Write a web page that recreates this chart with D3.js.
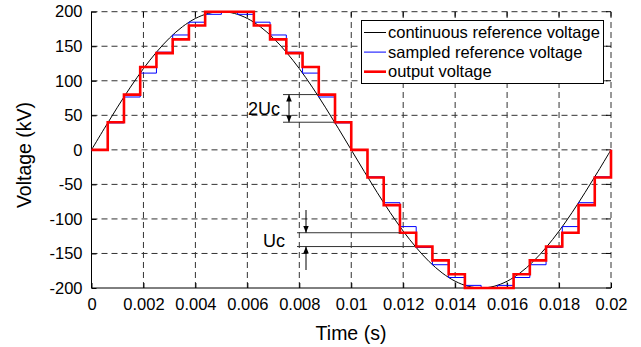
<!DOCTYPE html>
<html><head><meta charset="utf-8">
<script src="https://cdn.jsdelivr.net/npm/d3@7"></script>
<style>
html,body{margin:0;padding:0;background:#fff;}
svg{display:block;font-family:"Liberation Sans",Arial,sans-serif;}
</style></head>
<body>
<svg id="chart" width="641" height="347"></svg>
<script>
// ---- data ----
const sampleTimes = [0,0.000625,0.00125,0.001875,0.0025,0.003125,0.00375,0.004375,0.005,0.005625,0.00625,0.006875,0.0075,0.008125,0.00875,0.009375,0.01,0.010625,0.01125,0.011875,0.0125,0.013125,0.01375,0.014375,0.015,0.015625,0.01625,0.016875,0.0175,0.018125,0.01875,0.019375,0.02];
const sampledRef = [0,39.0,76.5,111.1,141.4,166.3,184.8,196.2,200,196.2,184.8,166.3,141.4,111.1,76.5,39.0,0,-39.0,-76.5,-111.1,-141.4,-166.3,-184.8,-196.2,-200,-196.2,-184.8,-166.3,-141.4,-111.1,-76.5,-39.0,0];
const outputVoltage = [0,40,80,120,140,160,180,200,200,200,180,160,140,120,80,40,0,-40,-80,-120,-140,-160,-180,-200,-200,-200,-180,-160,-140,-120,-80,-40,0];
const contTimes = [0,0.0005,0.001,0.0015,0.002,0.0025,0.003,0.0035,0.004,0.0045,0.005,0.0055,0.006,0.0065,0.007,0.0075,0.008,0.0085,0.009,0.0095,0.01,0.0105,0.011,0.0115,0.012,0.0125,0.013,0.0135,0.014,0.0145,0.015,0.0155,0.016,0.0165,0.017,0.0175,0.018,0.0185,0.019,0.0195,0.02];
const contRef = [0,31.3,61.8,90.8,117.6,141.4,161.8,178.2,190.2,197.5,200,197.5,190.2,178.2,161.8,141.4,117.6,90.8,61.8,31.3,0,-31.3,-61.8,-90.8,-117.6,-141.4,-161.8,-178.2,-190.2,-197.5,-200,-197.5,-190.2,-178.2,-161.8,-141.4,-117.6,-90.8,-61.8,-31.3,0];
const xTicks = [0,0.002,0.004,0.006,0.008,0.01,0.012,0.014,0.016,0.018,0.02];
const xTickLabels = ["0","0.002","0.004","0.006","0.008","0.01","0.012","0.014","0.016","0.018","0.02"];
const yTicks = [-200,-150,-100,-50,0,50,100,150,200];
const yTickLabels = ["-200","-150","-100","-50","0","50","100","150","200"];
const legendLabels = ["continuous reference voltage","sampled reference voltage","output voltage"];
// annotation: levels and the time at which each level line meets the curve
const ann2UcLevels = [80,40];
const ann2UcEnd = [0.00876,0.00935];
const annUcLevels = [-120,-140];
const annUcEnd = [0.01189,0.01245];

// ---- layout ----
const svg = d3.select("#chart");
const x = d3.scaleLinear().domain([0,0.02]).range([91.5,611]);
const y = d3.scaleLinear().domain([-200,200]).range([288,11.7]);
const colors = ["#000000","#0000ff","#ff0000"];
const widths = [1,1,2.6];

// grid
const grid = svg.append("g");
xTicks.filter(d=>d>0).forEach(d=>{
  grid.append("line").attr("x1",x(d)).attr("x2",x(d)).attr("y1",y(-200)).attr("y2",y(200))
    .attr("stroke","#333").attr("stroke-width",1).attr("stroke-dasharray","6,4");
});
yTicks.filter(d=>d>-200).forEach(d=>{
  grid.append("line").attr("x1",x(0)).attr("x2",x(0.02)).attr("y1",y(d)).attr("y2",y(d))
    .attr("stroke","#333").attr("stroke-width",1).attr("stroke-dasharray","6,4");
});
// top/right inward ticks
xTicks.forEach(d=>{
  grid.append("line").attr("x1",x(d)).attr("x2",x(d)).attr("y1",y(200)).attr("y2",y(200)+5).attr("stroke","#000");
});
yTicks.forEach(d=>{
  grid.append("line").attr("x1",x(0.02)).attr("x2",x(0.02)-5).attr("y1",y(d)).attr("y2",y(d)).attr("stroke","#000");
});

// axes
const xAxis = d3.axisBottom(x).tickValues(xTicks).tickSize(-5).tickPadding(10)
  .tickFormat((d,i)=>xTickLabels[i]);
const gx = svg.append("g").attr("transform",`translate(0,${y(-200)})`).call(xAxis);
const yAxis = d3.axisLeft(y).tickValues(yTicks).tickSize(-5).tickPadding(10)
  .tickFormat((d,i)=>yTickLabels[i]);
const gy = svg.append("g").attr("transform",`translate(${x(0)},0)`).call(yAxis);
[gx,gy].forEach(g=>{
  g.select(".domain").attr("stroke","#000").attr("d", null);
  g.selectAll("text").attr("font-size","16.5px").attr("fill","#000").attr("font-family","Liberation Sans, Arial, sans-serif");
  g.selectAll(".tick line").attr("stroke","#000");
});
gx.select(".domain").remove(); gy.select(".domain").remove();
svg.append("path").attr("d",`M${x(0)},${y(200)}V${y(-200)}H${x(0.02)}`).attr("fill","none").attr("stroke","#000").attr("stroke-width",1);
gy.selectAll("text").attr("dx","1");

// axis titles
svg.append("text").attr("x",351).attr("y",340).attr("text-anchor","middle")
  .attr("font-size","19.5px").text("Time (s)");
svg.append("text").attr("transform","translate(31,155) rotate(-90)").attr("text-anchor","middle")
  .attr("font-size","19.5px").text("Voltage (kV)");

// series
const lineSmooth = d3.line().x(d=>x(d[0])).y(d=>y(d[1])).curve(d3.curveCatmullRom);
const lineStep = d3.line().x(d=>x(d[0])).y(d=>y(d[1])).curve(d3.curveStepAfter);
const clip = svg.append("clipPath").attr("id","clip").append("rect")
  .attr("x",x(0)-2).attr("y",y(200)-3).attr("width",x(0.02)-x(0)+4).attr("height",y(-200)-y(200)+6);
const series = svg.append("g");
series.append("path").datum(contTimes.map((t,i)=>[t,contRef[i]])).attr("d",lineSmooth)
  .attr("fill","none").attr("stroke",colors[0]).attr("stroke-width",widths[0]);
series.append("path").datum(sampleTimes.map((t,i)=>[t,sampledRef[i]])).attr("d",lineStep)
  .attr("fill","none").attr("stroke",colors[1]).attr("stroke-width",widths[1]);
series.append("path").datum(sampleTimes.map((t,i)=>[t,outputVoltage[i]])).attr("d",lineStep)
  .attr("fill","none").attr("stroke",colors[2]).attr("stroke-width",widths[2]);

// annotations
const defs = svg.append("defs");
defs.append("marker").attr("id","arr").attr("viewBox","0 0 10 10").attr("refX",10).attr("refY",5)
  .attr("markerWidth",7).attr("markerHeight",7).attr("orient","auto-start-reverse")
  .append("path").attr("d","M0,1L10,5L0,9Z").attr("fill","#000");
const ann = svg.append("g").attr("stroke","#333").attr("stroke-width",1);
ann2UcLevels.forEach((v,i)=>{
  ann.append("line").attr("x1",283).attr("x2",x(ann2UcEnd[i])).attr("y1",y(v)).attr("y2",y(v));
});
ann.append("line").attr("x1",289).attr("x2",289).attr("y1",y(ann2UcLevels[0])).attr("y2",y(ann2UcLevels[1]))
  .attr("stroke","#000").attr("marker-start","url(#arr)").attr("marker-end","url(#arr)");
annUcLevels.forEach((v,i)=>{
  ann.append("line").attr("x1",297).attr("x2",x(annUcEnd[i])).attr("y1",y(v)).attr("y2",y(v));
});
ann.append("line").attr("x1",306).attr("x2",306).attr("y1",210).attr("y2",y(annUcLevels[0]))
  .attr("stroke","#000").attr("marker-end","url(#arr)");
ann.append("line").attr("x1",306).attr("x2",306).attr("y1",270).attr("y2",y(annUcLevels[1]))
  .attr("stroke","#000").attr("marker-end","url(#arr)");
svg.append("text").attr("x",248).attr("y",115).attr("font-size","18px").text("2Uc");
svg.append("text").attr("x",263).attr("y",247).attr("font-size","18px").text("Uc");

// legend
const lg = svg.append("g");
lg.append("rect").attr("x",361.5).attr("y",20.5).attr("width",242).attr("height",63)
  .attr("fill","#fff").attr("stroke","#000").attr("stroke-width",1);
legendLabels.forEach((lab,i)=>{
  const yy = 32.5 + i*19.6;
  lg.append("line").attr("x1",364).attr("x2",386).attr("y1",yy).attr("y2",yy)
    .attr("stroke",colors[i]).attr("stroke-width",widths[i]);
  lg.append("text").attr("x",388).attr("y",yy).attr("dy","0.35em").attr("font-size","16.5px").text(lab);
});
</script>
</body></html>
